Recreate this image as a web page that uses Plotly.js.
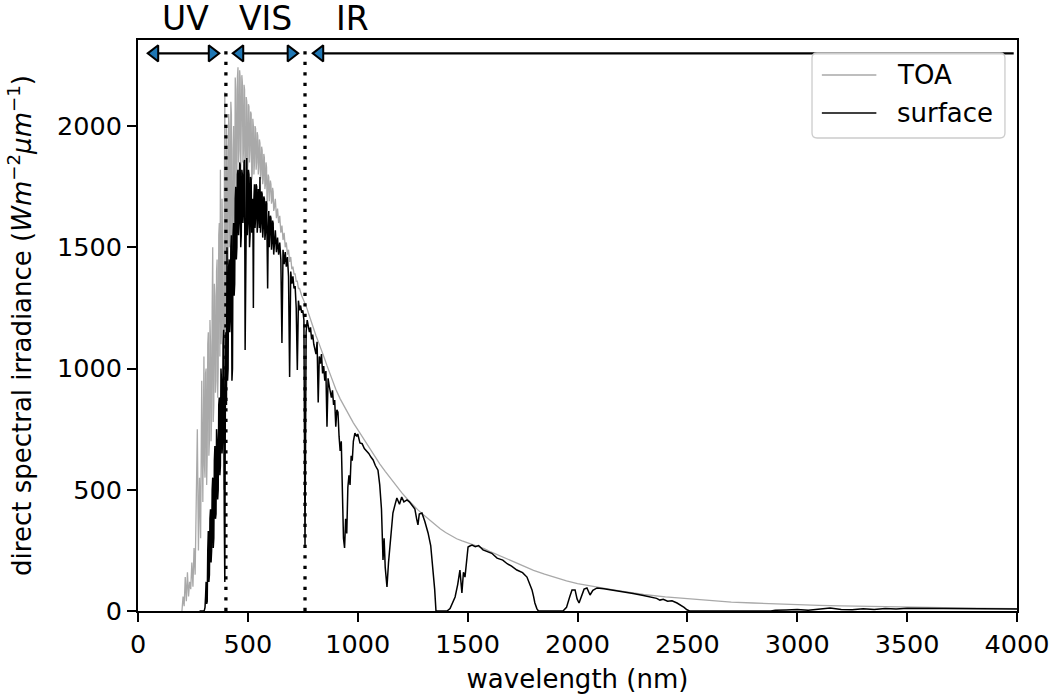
<!DOCTYPE html>
<html><head><meta charset="utf-8">
<script src="https://cdn.plot.ly/plotly-3.0.1.min.js"></script>
<style>html,body{margin:0;padding:0;background:#fff}#chart{width:1053px;height:697px}</style>
</head><body><div id="chart"></div>
<script>
// ---- data ----
const toaWavelength = [200,205,210,215,220,225,230,235,240,245,250,255,260,265,270,275,280,285,290,295,
  300,302.5,305,307.5,310,312.5,315,317.5,320,322.5,325,327.5,330,332.5,335,337.5,340,342.5,345,347.5,350,352.5,355,357.5,360,362.5,365,367.5,370,372.5,375,377.5,380,382.5,385,387.5,390,392.5,395,397.5,
  400,402.5,405,407.5,410,412.5,415,417.5,420,422.5,425,427.5,430,432.5,435,437.5,440,442.5,445,447.5,450,452.5,455,457.5,460,462.5,465,467.5,470,472.5,475,477.5,480,482.5,485,487.5,490,492.5,495,497.5,
  500,502.5,505,507.5,510,512.5,515,517.5,520,522.5,525,527.5,530,532.5,535,537.5,540,542.5,545,547.5,550,552.5,555,557.5,560,562.5,565,567.5,570,572.5,575,577.5,580,582.5,585,587.5,590,592.5,595,597.5,
  600,602.5,605,607.5,610,612.5,615,617.5,620,625,630,635,640,645,650,655,660,665,670,675,680,685,690,695,700,705,710,715,720,725,730,735,740,745,750,755,760,765,770,775,780,785,790,795,800,
  810,820,830,840,850,860,870,880,890,900,920,940,960,980,1000,1025,1050,1075,1100,1125,1150,1175,1200,1225,1250,1275,1300,1325,1350,1375,1400,1425,1450,1475,1500,1525,1550,1575,1600,1650,1700,1750,1800,1850,1900,1950,2000,2050,2100,2150,2200,2250,2300,2400,2500,2600,2700,2800,2900,3000,3100,3200,3300,3400,3500,3600,3700,3800,3900,4000];
const toaIrradiance = [0,60,20,140,40,160,60,120,90,200,100,260,150,450,750,250,550,300,950,450,
  1050,600,550,980,1000,520,650,1100,1150,640,700,1200,1100,700,800,1250,1500,780,850,1350,1300,900,950,1400,1450,880,1000,1550,1600,1050,1820,1100,1150,1700,1500,900,500,1600,2140,700,
  1300,2000,1900,1400,1450,2050,2000,1500,1550,2100,2050,1300,1350,1900,2000,1600,1650,2200,2150,1750,1800,2200,2243,1850,1900,2230,2200,1800,1950,2210,2180,1850,1900,2170,2150,1600,1750,2120,2100,1800,
  1850,2090,2080,1850,1900,2060,2050,1780,1800,2030,2000,1800,1850,2000,1990,1820,1850,1975,1960,1800,1830,1945,1930,1780,1800,1915,1900,1760,1780,1885,1870,1740,1760,1850,1830,1650,1700,1800,1790,1690,
  1720,1775,1760,1680,1690,1745,1730,1650,1660,1700,1620,1660,1600,1630,1560,1590,1530,1560,1500,1520,1470,1490,1440,1460,1410,1420,1390,1390,1360,1360,1330,1330,1310,1300,1290,1280,1270,1260,1245,1230,1215,1200,1185,1170,1155,
  1135,1112,1090,1062,1038,1012,988,962,940,915,875,840,805,776,748,712,676,642,607,576,546,516,488,462,438,416,396,376,357,339,324,310,298,289,281,275,268,257,246,226,205,186,168,152,137,124,113,104,96,89,82,75,68,58,50,43,37,33,29,26,23,21,19,17,15,14,13,12,11,10];

const surfaceWavelength = [280,285,290,295,
  300,302.5,305,307.5,310,312.5,315,317.5,320,322.5,325,327.5,330,332.5,335,337.5,340,342.5,345,347.5,350,352.5,355,357.5,360,362.5,365,367.5,370,372.5,375,377.5,380,382.5,385,387.5,390,392.5,395,397.5,
  400,402.5,405,407.5,410,412.5,415,417.5,420,422.5,425,427.5,430,432.5,435,437.5,440,442.5,445,447.5,450,452.5,455,457.5,460,462.5,465,467.5,470,472.5,475,477.5,480,482.5,485,487.5,490,492.5,495,497.5,
  500,502.5,505,507.5,510,512.5,515,517.5,520,522.5,525,527.5,530,532.5,535,537.5,540,542.5,545,547.5,550,552.5,555,557.5,560,562.5,565,567.5,570,572.5,575,577.5,580,582.5,585,587.5,590,592.5,595,597.5,
  600,602.5,605,607.5,610,612.5,615,617.5,620,625,630,635,640,645,650,655,660,665,670,675,680,685,690,695,700,705,710,715,720,725,730,735,740,745,750,755,760,765,770,775,780,785,790,795,800,
  810,815,820,825,830,835,840,845,850,855,860,865,870,875,880,885,890,895,900,905,910,915,920,925,930,935,940,945,950,955,960,965,970,975,980,987,995,1000,1010,1020,1030,1040,1050,1060,1070,1080,1092,1100,1108,1115,1120,1125,1133,1140,1147,1155,1160,1170,1178,1190,1200,1210,1224,1235,1247,1260,1268,1274,1280,1292,1305,1320,1332,1342,1350,1356,1406,1420,1435,1443,1455,1465,1474,1481,1488,1495,1502,1510,1520,1535,1550,1570,1590,1610,1634,1660,1680,1700,1724,1750,1770,1785,1793,1800,1806,1815,1822,1934,1950,1965,1975,1989,1998,2007,2018,2030,2043,2050,2057,2070,2089,2120,2150,2200,2253,2300,2340,2360,2375,2390,2410,2430,2453,2470,2485,2498,2510,2880,2900,2950,3000,3050,3100,3150,3200,3250,3300,3350,3400,3450,3500,3600,3700,3800,3900,4000];
const surfaceIrradiance = [0,0,0,0,
  0,5,15,60,120,30,40,250,330,120,150,380,420,200,250,500,550,260,300,620,680,380,400,750,700,460,500,850,880,560,600,1000,950,650,700,1100,1160,400,120,900,
  1150,850,1500,950,1000,1420,1450,1150,1200,1500,1550,950,1000,1550,1600,1300,1350,1700,1750,1450,1500,1800,1820,1550,1600,1850,1840,1500,1550,1820,1800,1600,1650,1850,1860,1076,1400,1850,1868,1550,
  1600,1820,1800,1500,1550,1790,1780,1560,1600,1700,1250,1700,1760,1580,1620,1760,1750,1560,1600,1740,1720,1580,1790,1560,1600,1730,1720,1540,1580,1710,1700,1530,1560,1690,1680,1520,1330,1560,1650,1500,
  1550,1630,1620,1490,1520,1610,1600,1470,1500,1570,1480,1540,1470,1520,1450,1105,1490,1430,1480,1420,1460,1380,965,1400,1350,1380,1330,1340,1250,994,1280,1240,1260,1230,1240,1200,264,1150,1200,1180,1150,1170,1120,1140,1100,
  1060,1110,860,1050,1020,1060,980,1010,950,990,760,960,930,900,880,910,850,870,760,830,820,720,660,700,500,300,260,380,320,510,560,520,640,620,700,734,720,730,693,690,670,660,650,635,623,600,581,520,420,210,300,180,99,200,264,350,404,440,466,440,470,450,458,450,437,420,380,355,400,404,370,322,270,181,90,0,0,10,40,58,110,169,74,160,140,210,264,268,272,265,270,252,245,238,218,210,195,185,169,158,140,110,87,60,33,10,0,0,15,60,87,87,50,33,60,90,95,80,66,85,95,92,88,82,72,64,55,52,45,48,40,42,33,25,15,5,0,0,3,4,6,3,8,12,6,5,9,6,10,8,11,10,11,10,9,8];

const bandLabels = ['UV', 'VIS', 'IR'];
const bandLabelX = [214, 582, 978];
const bandBoundaries = [400, 760];
const bandArrowStarts = [45, 432, 796];
const bandArrowEnds = [369, 728, 3985];
const bandArrowLevel = 2300;
const xTicks = [0, 500, 1000, 1500, 2000, 2500, 3000, 3500, 4000];
const yTicks = [0, 500, 1000, 1500, 2000];

// ---- build ----
const headOffset = 31; // nm, distance from tip to marker centre
const arrowX = [], arrowY = [];
bandArrowStarts.forEach((s, i) => { arrowX.push(s, bandArrowEnds[i], null); arrowY.push(bandArrowLevel, bandArrowLevel, null); });
const leftHeadX = bandArrowStarts.map(s => s + headOffset);
const rightHeadX = bandArrowEnds.slice(0, 2).map(e => e - headOffset);

const traces = [
  {x: toaWavelength, y: toaIrradiance, type: 'scatter', mode: 'lines', name: 'TOA',
   line: {color: '#a9a9a9', width: 1.3}, hoverinfo: 'skip'},
  {x: surfaceWavelength, y: surfaceIrradiance, type: 'scatter', mode: 'lines', name: 'surface',
   line: {color: '#000000', width: 1.5}, hoverinfo: 'skip'},
  {x: arrowX, y: arrowY, type: 'scatter', mode: 'lines', line: {color: '#000', width: 2.2},
   hoverinfo: 'skip'},
  {x: leftHeadX, y: leftHeadX.map(() => bandArrowLevel), type: 'scatter', mode: 'markers',
   marker: {symbol: 'triangle-left', size: 14, color: '#1f77b4', line: {color: '#000', width: 2}},
   hoverinfo: 'skip', cliponaxis: false},
  {x: rightHeadX, y: rightHeadX.map(() => bandArrowLevel), type: 'scatter', mode: 'markers',
   marker: {symbol: 'triangle-right', size: 14, color: '#1f77b4', line: {color: '#000', width: 2}},
   hoverinfo: 'skip', cliponaxis: false}
];

const shapes = bandBoundaries.map(b => ({
  type: 'line', xref: 'x', yref: 'paper', x0: b, x1: b, y0: 0, y1: 0.993,
  line: {color: '#000', width: 3.3, dash: '3.3px,7.2px'}, layer: 'above'
}));

// legend box (paper coords)
const lx0 = 0.7668, lx1 = 0.9863, ly0 = 0.8284, ly1 = 0.9772, rx = 0.0057, ry = 0.0088;
shapes.push({
  type: 'path', xref: 'paper', yref: 'paper', layer: 'above',
  path: `M${lx0+rx},${ly0} L${lx1-rx},${ly0} Q${lx1},${ly0} ${lx1},${ly0+ry} L${lx1},${ly1-ry} Q${lx1},${ly1} ${lx1-rx},${ly1} L${lx0+rx},${ly1} Q${lx0},${ly1} ${lx0},${ly1-ry} L${lx0},${ly0+ry} Q${lx0},${ly0} ${lx0+rx},${ly0} Z`,
  line: {color: '#cccccc', width: 1.3}, fillcolor: 'rgba(255,255,255,0.8)'
});
const legendRows = [
  {label: 'TOA', color: '#a9a9a9', width: 1.3, y: 0.9387},
  {label: 'surface', color: '#000000', width: 1.5, y: 0.8722}
];
legendRows.forEach(r => shapes.push({type: 'line', xref: 'paper', yref: 'paper', layer: 'above',
  x0: 0.778, x1: 0.840, y0: r.y, y1: r.y, line: {color: r.color, width: r.width}}));

const annotations = legendRows.map(r => ({
  xref: 'paper', yref: 'paper', x: 0.8612, y: r.y, xanchor: 'left', yanchor: 'middle',
  text: r.label, showarrow: false, font: {size: 26, color: '#000'}
}));
bandLabels.forEach((t, i) => annotations.push({
  xref: 'x', yref: 'paper', x: bandLabelX[i], y: 1.0385, xanchor: 'center', yanchor: 'middle',
  text: t, showarrow: false, font: {size: 33, color: '#000'}
}));

const axisCommon = {
  ticks: 'outside', ticklen: 9, tickwidth: 2, tickcolor: '#000',
  showline: true, linewidth: 2, linecolor: '#000', mirror: true,
  showgrid: false, zeroline: false, automargin: false,
  tickfont: {size: 25.5, color: '#000'}
};

const layout = {
  width: 1053, height: 697,
  margin: {l: 138, r: 36, t: 40, b: 86, pad: 0},
  paper_bgcolor: '#fff', plot_bgcolor: '#fff',
  font: {family: 'DejaVu Sans', size: 26, color: '#000'},
  showlegend: false,
  xaxis: Object.assign({}, axisCommon, {
    range: [0, 4000], tickmode: 'array', tickvals: xTicks, ticktext: xTicks.map(String),
    title: {text: 'wavelength (nm)', font: {size: 26}, standoff: 12}
  }),
  yaxis: Object.assign({}, axisCommon, {
    range: [0, 2355], tickmode: 'array', tickvals: yTicks, ticktext: yTicks.map(String),
    title: {text: 'direct spectral irradiance (<i>Wm</i><sup>−2</sup><i>μm</i><sup>−1</sup>)', font: {size: 26}, standoff: 18}
  }),
  shapes: shapes,
  annotations: annotations
};

Plotly.newPlot('chart', traces, layout, {staticPlot: true, displayModeBar: false});
</script>
</body></html>
